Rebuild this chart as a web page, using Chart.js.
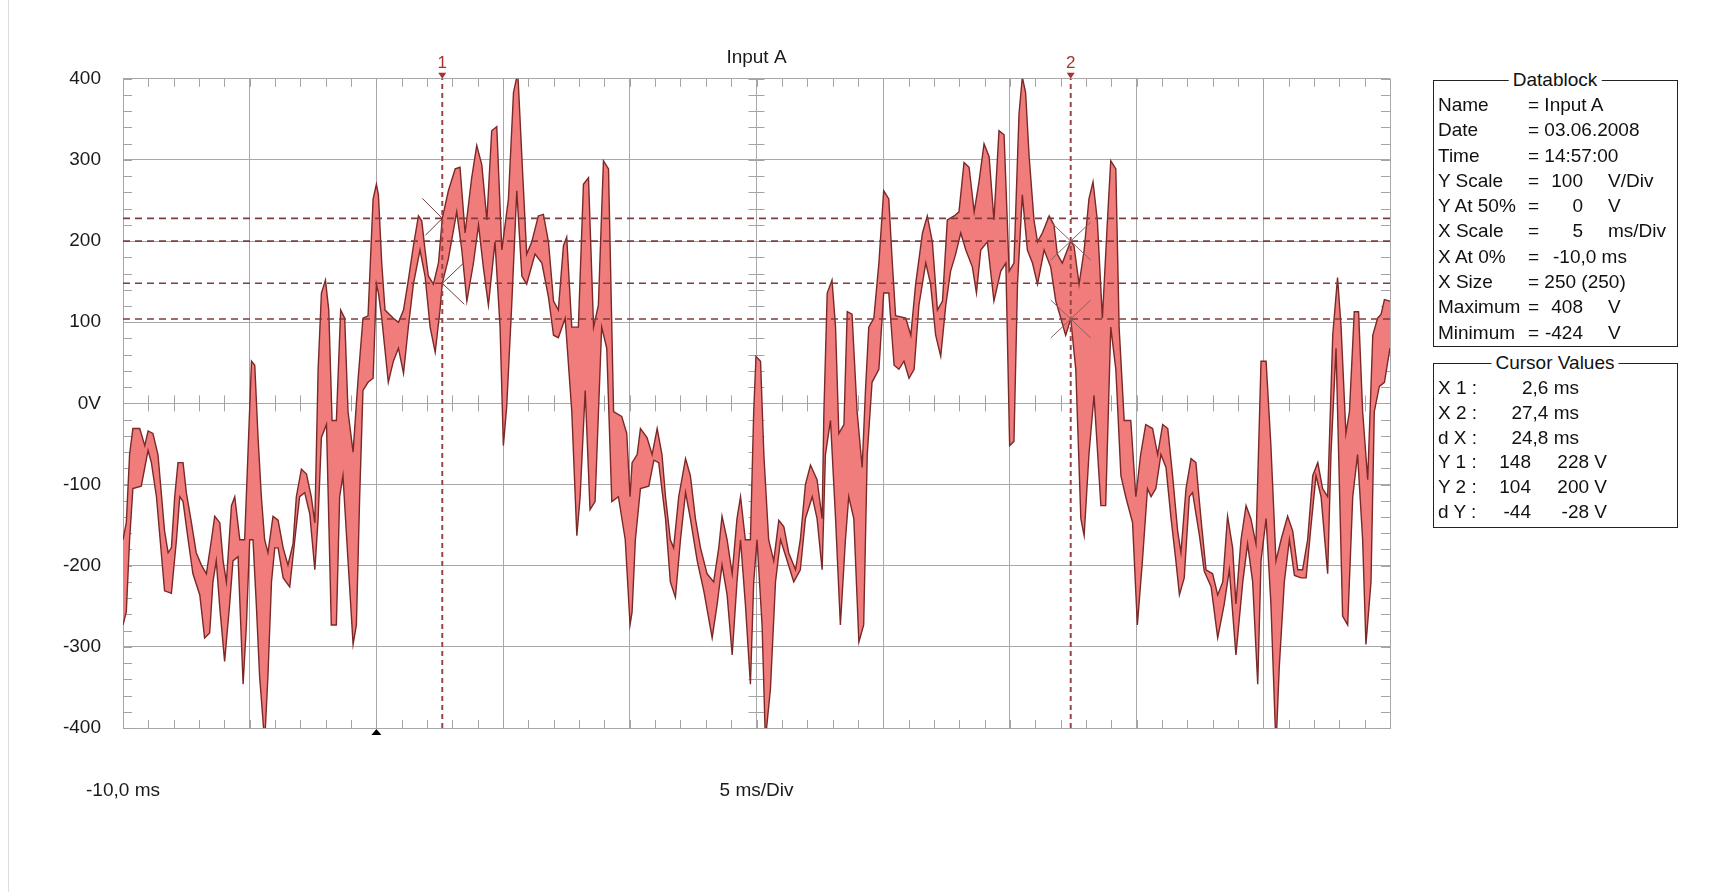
<!DOCTYPE html>
<html>
<head>
<meta charset="utf-8">
<title>Input A</title>
<script src="https://cdn.jsdelivr.net/npm/chart.js@4.4.1/dist/chart.umd.min.js"></script>
<style>
  html, body { margin: 0; padding: 0; background: #fff; overflow: hidden; }
  #wrap { position: relative; width: 1729px; height: 892px; }
  #frame { position: absolute; left: 8px; top: 0; width: 1px; height: 892px; background: #dedede; }
  .box { position: absolute; border: 1px solid #222; box-sizing: border-box; }
  .t { position: absolute; font: 19px "Liberation Sans", Arial, sans-serif; line-height: 22px; white-space: pre; color: #111; }
  .r { transform: translateX(-100%); }
  .c { transform: translateX(-50%); background: #fff; padding: 0 4px; }
</style>
</head>
<body>
<div id="wrap">
  <div id="frame"></div>
  <canvas id="scope" width="1729" height="892"></canvas>

  <div class="box" style="left:1433px;top:80px;width:245px;height:267px"></div>
  <span class="t c" style="left:1555px;top:69px">Datablock</span>
  <span class="t" style="left:1438px;top:94px">Name</span><span class="t" style="left:1528px;top:94px">= Input A</span>
  <span class="t" style="left:1438px;top:119px">Date</span><span class="t" style="left:1528px;top:119px">= 03.06.2008</span>
  <span class="t" style="left:1438px;top:145px">Time</span><span class="t" style="left:1528px;top:145px">= 14:57:00</span>
  <span class="t" style="left:1438px;top:170px">Y Scale</span><span class="t" style="left:1528px;top:170px">=</span><span class="t r" style="left:1583px;top:170px">100</span><span class="t" style="left:1608px;top:170px">V/Div</span>
  <span class="t" style="left:1438px;top:195px">Y At 50%</span><span class="t" style="left:1528px;top:195px">=</span><span class="t r" style="left:1583px;top:195px">0</span><span class="t" style="left:1608px;top:195px">V</span>
  <span class="t" style="left:1438px;top:220px">X Scale</span><span class="t" style="left:1528px;top:220px">=</span><span class="t r" style="left:1583px;top:220px">5</span><span class="t" style="left:1608px;top:220px">ms/Div</span>
  <span class="t" style="left:1438px;top:246px">X At 0%</span><span class="t" style="left:1528px;top:246px">=</span><span class="t" style="left:1553px;top:246px">-10,0 ms</span>
  <span class="t" style="left:1438px;top:271px">X Size</span><span class="t" style="left:1528px;top:271px">= 250 (250)</span>
  <span class="t" style="left:1438px;top:296px">Maximum</span><span class="t" style="left:1528px;top:296px">=</span><span class="t r" style="left:1583px;top:296px">408</span><span class="t" style="left:1608px;top:296px">V</span>
  <span class="t" style="left:1438px;top:322px">Minimum</span><span class="t" style="left:1528px;top:322px">=</span><span class="t r" style="left:1583px;top:322px">-424</span><span class="t" style="left:1608px;top:322px">V</span>

  <div class="box" style="left:1433px;top:363px;width:245px;height:165px"></div>
  <span class="t c" style="left:1555px;top:352px">Cursor Values</span>
  <span class="t" style="left:1438px;top:377px">X 1 :</span><span class="t r" style="left:1579px;top:377px">2,6 ms</span>
  <span class="t" style="left:1438px;top:402px">X 2 :</span><span class="t r" style="left:1579px;top:402px">27,4 ms</span>
  <span class="t" style="left:1438px;top:427px">d X :</span><span class="t r" style="left:1579px;top:427px">24,8 ms</span>
  <span class="t" style="left:1438px;top:451px">Y 1 :</span><span class="t r" style="left:1531px;top:451px">148</span><span class="t r" style="left:1607px;top:451px">228 V</span>
  <span class="t" style="left:1438px;top:476px">Y 2 :</span><span class="t r" style="left:1531px;top:476px">104</span><span class="t r" style="left:1607px;top:476px">200 V</span>
  <span class="t" style="left:1438px;top:501px">d Y :</span><span class="t r" style="left:1531px;top:501px">-44</span><span class="t r" style="left:1607px;top:501px">-28 V</span>
</div>

<script>
// peak-detect envelope (ms, V)
const upperT = [
  -10.00, -9.87, -9.74, -9.61, -9.34, -9.14, -9.01, -8.82, -8.62, -8.49, -8.36, -8.22, -8.09, -7.96, -7.83, -7.63,
  -7.50, -7.30, -7.11, -6.91, -6.71, -6.51, -6.38, -6.18, -6.05, -5.92, -5.72, -5.59, -5.39, -5.20, -5.07, -4.93,
  -4.80, -4.67, -4.54, -4.41, -4.28, -4.08, -3.88, -3.68, -3.49, -3.29, -3.16, -2.96, -2.76, -2.57, -2.43, -2.30,
  -2.17, -2.01, -1.88, -1.75, -1.58, -1.41, -1.25, -1.12, -0.92, -0.79, -0.72, -0.53, -0.33, -0.13, 0.00,
  0.08, 0.21, 0.34, 0.67, 0.87, 1.07, 1.26, 1.46, 1.66, 1.79, 1.92, 2.05, 2.25, 2.45, 2.60, 2.84,
  3.11, 3.30, 3.50, 3.76, 3.96, 4.16, 4.36, 4.55, 4.75, 4.95, 5.21, 5.41, 5.58, 5.74, 5.93, 6.13,
  6.39, 6.59, 6.79, 6.99, 7.18, 7.38, 7.51, 7.71, 7.97, 8.17, 8.37, 8.57, 8.76, 8.96, 9.16, 9.36,
  9.68, 9.88, 10.01, 10.09,
  10.29, 10.42, 10.68, 10.88, 11.08, 11.27, 11.41, 11.60, 11.73, 11.93, 12.20, 12.39, 12.59, 12.79, 13.05, 13.31,
  13.51, 13.64, 13.84, 14.04, 14.23, 14.37, 14.56, 14.76, 14.89, 14.98, 15.16, 15.29, 15.48, 15.68, 15.88, 16.08,
  16.27, 16.54, 16.73, 16.93, 17.13, 17.39, 17.59, 17.66, 17.79, 17.98, 18.12, 18.25, 18.45, 18.58, 18.77, 18.97,
  19.17, 19.30, 19.43, 19.63, 19.83, 20.02, 20.22,
  20.36, 20.49, 20.89, 21.09, 21.28, 21.55, 21.74, 21.94, 22.14, 22.34, 22.53, 22.80, 22.99, 23.19, 23.39, 23.59,
  23.78, 23.98, 24.18, 24.37, 24.57, 24.77, 24.97, 25.16, 25.36, 25.49, 25.62, 25.76, 25.95, 26.09, 26.28, 26.55,
  26.74, 26.87, 27.07, 27.40, 27.53, 27.73, 27.93, 28.12, 28.28, 28.45, 28.65, 28.85, 28.98, 29.18, 29.31, 29.51,
  29.77, 29.97, 30.16, 30.36,
  30.63, 30.83, 31.03, 31.23, 31.42, 31.62, 31.75, 31.95, 32.15, 32.34, 32.54, 32.74, 33.00, 33.20, 33.40, 33.59,
  33.79, 33.92, 34.12, 34.32, 34.51, 34.71, 34.91, 35.11, 35.30, 35.50, 35.70, 35.96, 36.16, 36.36, 36.55, 36.75,
  36.95, 37.15, 37.34, 37.54, 37.74, 37.93, 38.07, 38.26, 38.40, 38.59, 38.76, 38.92, 39.12, 39.32, 39.51, 39.65,
  39.78, 40.00
];
const upperV = [
  -168, -147, -63, -31, -31, -52, -34, -37, -63, -110, -157, -184, -178, -115, -73, -73,
  -110, -147, -184, -199, -210, -168, -139, -147, -194, -220, -126, -115, -168, -168, -63, 52,
  47, -42, -115, -168, -184, -139, -144, -178, -199, -173, -115, -81, -87, -115, -147, 42,
  136, 152, 115, -21, -21, 115, 105, -10, -60, 0, 31, 105, 108, 252, 270,
  257, 173, 115, 105, 100, 115, 152, 194, 231, 225, 189, 157, 147, 173, 228, 262,
  289, 291, 210, 278, 318, 294, 226, 336, 341, 189, 252, 383, 408, 304, 184, 199,
  231, 233, 199, 126, 115, 194, 205, 94, 94, 270, 278, 94, 121, 299, 289, -10,
  -16, -37, -115, -73,
  -63, -31, -42, -63, -31, -63, -115, -168, -178, -115, -68, -89, -142, -178, -210, -220,
  -178, -139, -168, -210, -142, -115, -168, -168, -10, 58, 52, -63, -168, -194, -144, -152,
  -184, -205, -168, -100, -76, -94, -142, -10, 136, 152, 94, -37, -26, 113, 110, -10,
  -79, 16, 94, 105, 173, 262, 252,
  173, 108, 105, 84, 147, 210, 231, 199, 115, 126, 226, 231, 236, 297, 291, 236,
  273, 320, 304, 226, 336, 331, 163, 173, 357, 402, 383, 304, 226, 199, 210, 231,
  220, 184, 173, 200, 194, 147, 189, 252, 273, 226, 105, 226, 299, 289, 94, -21,
  -21, -115, -63, -26,
  -31, -63, -26, -31, -89, -157, -184, -105, -68, -73, -142, -205, -210, -236, -220, -139,
  -178, -247, -168, -126, -142, -173, 52, 52, -52, -194, -168, -139, -157, -205, -205, -168,
  -89, -73, -105, -115, 84, 155, 94, -37, -10, 113, 113, -10, -94, 84, 105, 110,
  128, 126
];

const lowerT = [
  -10.00, -9.87, -9.74, -9.61, -9.28, -9.01, -8.88, -8.68, -8.49, -8.36, -8.09, -7.89, -7.76, -7.63, -7.43, -7.24,
  -6.97, -6.78, -6.58, -6.45, -6.32, -6.18, -5.99, -5.79, -5.66, -5.46, -5.26, -5.13, -5.00, -4.87, -4.74, -4.61,
  -4.41, -4.28, -4.14, -4.01, -3.88, -3.68, -3.42, -3.22, -3.03, -2.83, -2.63, -2.43, -2.30, -2.17, -1.97, -1.78,
  -1.58, -1.45, -1.32, -1.12, -0.92, -0.79, -0.66, -0.53, -0.33, -0.13, 0.00,
  0.08, 0.21, 0.47, 0.67, 0.87, 1.07, 1.26, 1.46, 1.72, 1.92, 2.12, 2.32, 2.51, 2.60, 2.84, 3.17,
  3.37, 3.57, 3.83, 4.03, 4.22, 4.42, 4.68, 4.88, 5.01, 5.14, 5.34, 5.54, 5.74, 5.93, 6.26, 6.53,
  6.79, 6.99, 7.18, 7.45, 7.71, 7.91, 8.04, 8.24, 8.43, 8.63, 8.89, 9.09, 9.29, 9.55, 9.82, 10.01,
  10.09,
  10.22, 10.42, 10.75, 10.95, 11.14, 11.41, 11.60, 11.80, 12.00, 12.20, 12.39, 12.66, 12.92, 13.25, 13.45, 13.64,
  13.84, 14.04, 14.23, 14.37, 14.56, 14.76, 14.89, 15.02, 15.22, 15.35, 15.55, 15.75, 15.95, 16.21, 16.47, 16.73,
  16.93, 17.20, 17.39, 17.59, 17.72, 17.92, 18.12, 18.31, 18.51, 18.64, 18.84, 19.04, 19.23, 19.37, 19.56, 19.83,
  20.02, 20.22,
  20.43, 20.62, 20.82, 21.02, 21.22, 21.41, 21.68, 21.87, 22.07, 22.27, 22.47, 22.66, 22.86, 23.06, 23.26, 23.52,
  23.68, 23.85, 24.11, 24.37, 24.64, 24.84, 24.99, 25.16, 25.30, 25.49, 25.69, 25.89, 26.09, 26.35, 26.61, 26.81,
  27.01, 27.20, 27.40, 27.60, 27.80, 27.93, 28.12, 28.32, 28.59, 28.78, 28.98, 29.18, 29.38, 29.57, 29.84, 30.03,
  30.23, 30.43,
  30.57, 30.76, 30.96, 31.16, 31.36, 31.55, 31.69, 31.88, 32.08, 32.21, 32.48, 32.67, 32.94, 33.20, 33.46, 33.66,
  33.92, 34.19, 34.38, 34.58, 34.78, 34.91, 35.11, 35.30, 35.50, 35.63, 35.83, 36.03, 36.23, 36.49, 36.69, 36.88,
  37.08, 37.28, 37.54, 37.67, 37.87, 38.13, 38.33, 38.53, 38.72, 38.92, 39.05, 39.25, 39.38, 39.58, 39.78, 40.00
];
const lowerV = [
  -273, -257, -168, -105, -102, -58, -73, -115, -184, -231, -234, -168, -115, -121, -168, -210,
  -236, -289, -283, -220, -194, -252, -318, -247, -194, -189, -346, -273, -168, -168, -247, -336,
  -418, -336, -220, -178, -178, -215, -226, -168, -115, -110, -136, -205, -142, -42, -26, -273,
  -273, -115, -89, -194, -297, -273, -115, 16, 26, 31, 147,
  136, 105, 26, 52, 68, 37, 94, 147, 189, 157, 94, 63, 115, 148, 178, 236,
  189, 126, 173, 220, 168, 121, 199, 94, -52, -5, 121, 262, 157, 147, 184, 173,
  131, 84, 81, 105, -10, -163, -115, 16, -131, -121, 94, 68, -121, -115, -168, -273,
  -257,
  -168, -105, -102, -70, -73, -142, -220, -239, -168, -110, -142, -194, -231, -289, -247, -199,
  -236, -310, -220, -168, -247, -346, -220, -168, -273, -415, -352, -220, -168, -194, -220, -205,
  -142, -115, -142, -205, -63, -21, -142, -273, -168, -115, -142, -294, -273, -63, 26, 42,
  136, 136,
  47, 42, 52, 31, 42, 121, 173, 147, 84, 58, 121, 163, 184, 210, 189, 168,
  136, 189, 199, 126, 163, 173, -52, -47, 147, 257, 189, 173, 147, 189, 168, 126,
  105, 84, 104, 42, -142, -163, -63, 10, -126, -126, 94, 42, -89, -115, -147, -273,
  -194, -105,
  -115, -105, -63, -79, -142, -194, -236, -215, -115, -110, -163, -207, -226, -289, -247, -205,
  -310, -220, -173, -220, -346, -194, -142, -247, -424, -325, -220, -168, -212, -215, -215, -152,
  -89, -115, -210, -63, 68, -262, -273, -115, -63, -168, -297, -220, -10, 21, 26, 68
];

const timeRange = [-10, 40];
const voltRange = [-400, 400];
const cursorTimes = [2.6, 27.4];
const cursorLevels = [228, 200, 148, 104];
const cursorNames = ["1", "2"];
const triggerTime = 0;

const toPoints = (ts, vs) => ts.map((t, i) => ({ x: t, y: vs[i] }));

Chart.defaults.font.family = '"Liberation Sans", Arial, sans-serif';
Chart.defaults.font.size = 19;
Chart.defaults.color = "#1a1a1a";

// small graticule marks, cursor markers and labels
const scopeMarks = {
  id: "scopeMarks",
  beforeDatasetsDraw(chart) {
    const { ctx, chartArea: a, scales: { x, y } } = chart;
    const y0 = y.getPixelForValue(0);
    const xc = x.getPixelForValue(15);
    ctx.save();
    ctx.strokeStyle = "#a4a4a4";
    ctx.lineWidth = 1;
    ctx.beginPath();
    for (let t = timeRange[0]; t <= timeRange[1]; t += 1) {
      const px = Math.round(x.getPixelForValue(t)) + 0.5;
      ctx.moveTo(px, a.top); ctx.lineTo(px, a.top + 8);
      ctx.moveTo(px, a.bottom); ctx.lineTo(px, a.bottom - 8);
      ctx.moveTo(px, y0 - 8); ctx.lineTo(px, y0 + 8);
    }
    for (let v = voltRange[0]; v <= voltRange[1]; v += 20) {
      const py = Math.round(y.getPixelForValue(v)) + 0.5;
      ctx.moveTo(a.left, py); ctx.lineTo(a.left + 9, py);
      ctx.moveTo(a.right, py); ctx.lineTo(a.right - 9, py);
      ctx.moveTo(xc - 8, py); ctx.lineTo(xc + 8, py);
    }
    ctx.stroke();
    ctx.restore();
  },
  afterDraw(chart) {
    const { ctx, chartArea: a, scales: { x, y } } = chart;
    ctx.save();
    ctx.lineWidth = 1;

    // cursor 1: chevrons at max / min
    const c1 = x.getPixelForValue(cursorTimes[0]);
    const y1a = y.getPixelForValue(228), y1b = y.getPixelForValue(148);
    ctx.strokeStyle = "#6e3c3c";
    ctx.beginPath();
    ctx.moveTo(c1 - 20, y1a - 20); ctx.lineTo(c1, y1a); ctx.lineTo(c1 - 17, y1a + 17);
    ctx.moveTo(c1 + 21, y1b - 20); ctx.lineTo(c1, y1b); ctx.lineTo(c1 + 22, y1b + 21);
    ctx.stroke();

    // cursor 2: crosses
    const c2 = x.getPixelForValue(cursorTimes[1]);
    ctx.strokeStyle = "#8e6060";
    ctx.beginPath();
    [200, 104].forEach(v => {
      const py = y.getPixelForValue(v);
      ctx.moveTo(c2 - 20, py - 19); ctx.lineTo(c2 + 20, py + 19);
      ctx.moveTo(c2 + 20, py - 19); ctx.lineTo(c2 - 20, py + 19);
    });
    ctx.stroke();

    // cursor numbers with small arrow heads
    ctx.fillStyle = "#a83232";
    ctx.font = '17px "Liberation Sans", Arial, sans-serif';
    ctx.textAlign = "center";
    ctx.textBaseline = "middle";
    cursorTimes.forEach((t, i) => {
      const px = x.getPixelForValue(t);
      ctx.fillText(cursorNames[i], px, a.top - 15);
      ctx.beginPath();
      ctx.moveTo(px - 4, a.top - 6); ctx.lineTo(px + 4, a.top - 6); ctx.lineTo(px, a.top);
      ctx.closePath();
      ctx.fill();
    });

    // trigger marker
    const tx = x.getPixelForValue(triggerTime);
    ctx.fillStyle = "#000";
    ctx.beginPath();
    ctx.moveTo(tx - 5, a.bottom + 7); ctx.lineTo(tx + 5, a.bottom + 7); ctx.lineTo(tx, a.bottom + 1);
    ctx.closePath();
    ctx.fill();
    ctx.restore();
  }
};

const traceEdge = "#7a2828";
const traceFill = "#f07c7c";

new Chart(document.getElementById("scope"), {
  type: "line",
  data: {
    datasets: [
      ...cursorLevels.map(v => ({
        data: [{ x: timeRange[0], y: v }, { x: timeRange[1], y: v }],
        borderColor: "#7c3e3e",
        borderWidth: 1.6,
        borderDash: [7, 5],
        pointRadius: 0,
        fill: false,
        order: 0
      })),
      ...cursorTimes.map(t => ({
        data: [{ x: t, y: voltRange[0] }, { x: t, y: voltRange[1] }],
        borderColor: "#9c4444",
        borderWidth: 2,
        borderDash: [5, 4],
        pointRadius: 0,
        fill: false,
        order: 0
      })),
      {
        label: "Input A max",
        data: toPoints(upperT, upperV),
        borderColor: traceEdge,
        borderWidth: 1.4,
        pointRadius: 0,
        tension: 0,
        fill: false,
        order: 1
      },
      {
        label: "Input A min",
        data: toPoints(lowerT, lowerV),
        borderColor: traceEdge,
        borderWidth: 1.4,
        pointRadius: 0,
        tension: 0,
        fill: "-1",
        backgroundColor: traceFill,
        order: 1
      }
    ]
  },
  options: {
    responsive: false,
    devicePixelRatio: 1,
    animation: false,
    events: [],
    layout: { padding: { left: 0, right: 339, top: 0, bottom: 0 } },
    plugins: {
      legend: { display: false },
      tooltip: { enabled: false },
      title: {
        display: true,
        text: "Input A",
        fullSize: false,
        color: "#1a1a1a",
        font: { size: 19, weight: "normal" },
        padding: { top: 46, bottom: 10 }
      }
    },
    scales: {
      x: {
        type: "linear",
        min: timeRange[0],
        max: timeRange[1],
        grid: { color: "#a8a8a8", drawTicks: false },
        border: { color: "#a8a8a8" },
        ticks: {
          stepSize: 5,
          autoSkip: false,
          maxRotation: 0,
          padding: 51,
          callback: v => v === -10 ? "-10,0 ms" : (v === 15 ? "5 ms/Div" : "")
        },
        afterFit: s => { s.height = 164; }
      },
      y: {
        min: voltRange[0],
        max: voltRange[1],
        grid: { color: "#a8a8a8", drawTicks: false },
        border: { color: "#a8a8a8" },
        ticks: {
          stepSize: 100,
          padding: 22,
          callback: v => v === 0 ? "0V" : String(v)
        },
        afterFit: s => { s.width = 123; }
      }
    }
  },
  plugins: [scopeMarks]
});
</script>
</body>
</html>
